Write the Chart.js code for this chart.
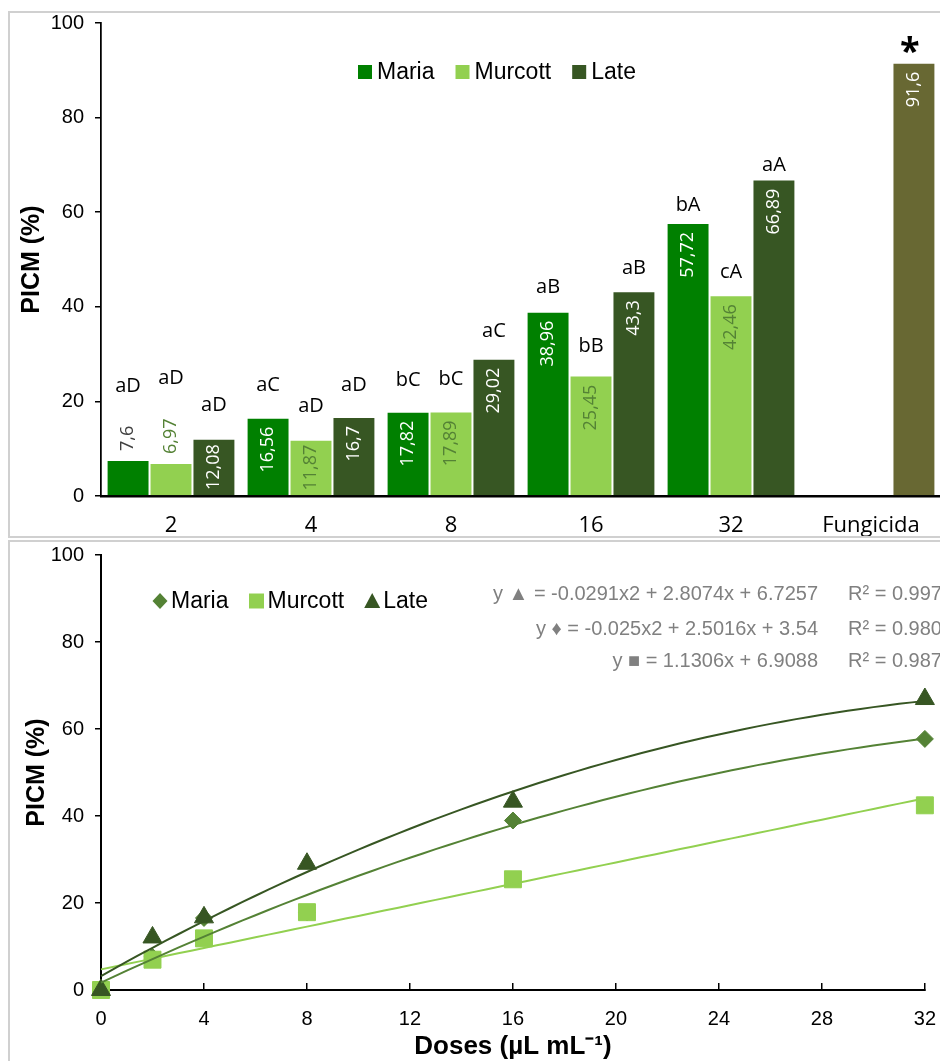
<!DOCTYPE html>
<html>
<head>
<meta charset="utf-8">
<script src="https://cdn.jsdelivr.net/npm/chart.js@4.4.1/dist/chart.umd.min.js"></script>
<style>
body { margin: 0; background: #fff; overflow: hidden; width: 940px; height: 1061px; position: relative; }
.frame { position: absolute; left: 8px; width: 1000px; border: 2px solid #d0d0d0; box-sizing: border-box; }
#frame-top { top: 11px; height: 527px; }
#frame-bottom { top: 540px; height: 600px; }
canvas { position: absolute; left: 0; }
#bar-chart { top: 0; }
#dose-chart { top: 541px; }
</style>
</head>
<body>
<div class="frame" id="frame-top"></div>
<div class="frame" id="frame-bottom"></div>
<canvas id="bar-chart" width="960" height="536"></canvas>
<canvas id="dose-chart" width="960" height="520"></canvas>
<script>
// top chart: PICM per dose and cultivar
const doses = ["2", "4", "8", "16", "32", "Fungicida"];
const maria = [7.6, 16.56, 17.82, 38.96, 57.72, null];
const murcott = [6.97, 11.87, 17.89, 25.45, 42.46, null];
const late = [12.08, 16.7, 29.02, 43.3, 66.89, 91.6];

const mariaLetters = ["aD", "aC", "bC", "aB", "bA", ""];
const murcottLetters = ["aD", "aD", "bC", "bB", "cA", ""];
const lateLetters = ["aD", "aD", "aC", "aB", "aA", "*"];

// bottom chart: dose response
const doseX = [0, 2, 4, 8, 16, 32];
const mariaPicm = [0, 7.6, 16.56, 17.82, 38.96, 57.72];
const murcottPicm = [0, 6.97, 11.87, 17.89, 25.45, 42.46];
const latePicm = [0, 12.08, 16.7, 29.02, 43.3, 66.89];

const equations = [
    "y \u25B2 = -0.0291x2 + 2.8074x + 6.7257",
    "y \u2666 = -0.025x2 + 2.5016x + 3.54",
    "y \u25A0 = 1.1306x + 6.9088"
];
const rSquared = ["R\u00B2 = 0.9978", "R\u00B2 = 0.9802", "R\u00B2 = 0.9878"];

const MARIA = "#008000";
const MURCOTT = "#92d050";
const LATE = "#375623";
const FUNGI = "#686833";
const MARIA_PT = "#548235";
const ARIAL = "'Liberation Sans', Arial, sans-serif";
const OPEN = "'Open Sans', sans-serif";

const fmt = v => String(v).replace(".", ",");

const barLabels = {
    id: "barLabels",
    afterDatasetsDraw(chart) {
        const ctx = chart.ctx;
        chart.data.datasets.forEach((ds, di) => {
            const meta = chart.getDatasetMeta(di);
            meta.data.forEach((bar, i) => {
                const v = ds.data[i];
                if (v == null) return;
                const text = fmt(v);
                ctx.save();
                ctx.font = "18px " + OPEN;
                const len = ctx.measureText(text).width;
                const h = bar.base - bar.y;
                const inside = h >= 45;
                let labelTop;
                if (inside) {
                    ctx.translate(bar.x, bar.y + Math.min(9, (h - len) / 2));
                    ctx.rotate(-Math.PI / 2);
                    ctx.textAlign = "right";
                    ctx.fillStyle = ds.insideLabel;
                    labelTop = bar.y;
                } else {
                    ctx.translate(bar.x, bar.y - 9);
                    ctx.rotate(-Math.PI / 2);
                    ctx.textAlign = "left";
                    ctx.fillStyle = ds.outsideLabel;
                    labelTop = bar.y - 9 - len;
                }
                ctx.textBaseline = "middle";
                ctx.fillText(text, 0, 0);
                ctx.restore();

                const letter = ds.letters[i];
                if (!letter) return;
                ctx.save();
                ctx.fillStyle = "#000";
                ctx.textAlign = "center";
                ctx.textBaseline = "middle";
                if (letter === "*") {
                    ctx.font = "bold 36px " + OPEN;
                    ctx.fillText(letter, bar.x - 4, bar.y - 10);
                } else {
                    ctx.font = "20px " + OPEN;
                    const y = inside ? bar.y - (38 - 0.35 * v) : labelTop - 40;
                    ctx.fillText(letter, bar.x, y);
                }
                ctx.restore();
            });
        });
    }
};

const topLegend = {
    id: "topLegend",
    afterDraw(chart) {
        const ctx = chart.ctx;
        let x = 358;
        const y = 72;
        ctx.save();
        ctx.font = "23px " + ARIAL;
        ctx.textBaseline = "middle";
        chart.data.datasets.forEach(ds => {
            ctx.fillStyle = ds.legendColor;
            ctx.fillRect(x, y - 7, 14, 14);
            x += 19;
            ctx.fillStyle = "#000";
            ctx.fillText(ds.label, x, y + 1);
            x += ctx.measureText(ds.label).width + 21;
        });
        ctx.restore();
    }
};

new Chart(document.getElementById("bar-chart"), {
    type: "bar",
    data: {
        labels: doses,
        datasets: [
            {
                label: "Maria", data: maria, backgroundColor: MARIA, legendColor: MARIA,
                insideLabel: "#ffffff", outsideLabel: "#404040", letters: mariaLetters
            },
            {
                label: "Murcott", data: murcott, backgroundColor: MURCOTT, legendColor: MURCOTT,
                insideLabel: MARIA_PT, outsideLabel: MARIA_PT, letters: murcottLetters
            },
            {
                label: "Late", data: late, legendColor: LATE,
                backgroundColor: c => (c.dataIndex === 5 ? FUNGI : LATE),
                insideLabel: "#ffffff", outsideLabel: "#404040", letters: lateLetters
            }
        ]
    },
    options: {
        responsive: false,
        animation: false,
        devicePixelRatio: 1,
        events: [],
        layout: { padding: { left: 0, right: 19, top: 23, bottom: 0 } },
        datasets: {
            bar: {
                categoryPercentage: 0.92,
                barPercentage: 1,
                borderWidth: 1,
                borderColor: "rgba(255,255,255,0.45)"
            }
        },
        plugins: { legend: { display: false }, tooltip: { enabled: false } },
        scales: {
            x: {
                afterFit: s => { s.height = 40; },
                grid: { display: false },
                border: { display: true, color: "#000", width: 2.5 },
                ticks: { font: { family: OPEN, size: 22 }, color: "#000", padding: 9 }
            },
            y: {
                min: 0,
                max: 100,
                afterFit: s => { s.width = 101; s.paddingTop = 0; s.paddingBottom = 0; },
                grid: { display: true, drawOnChartArea: false, drawTicks: true, tickLength: 6, color: "#000", lineWidth: 1.5 },
                border: { display: true, color: "#000", width: 1.75 },
                ticks: { stepSize: 20, font: { family: ARIAL, size: 20 }, color: "#000", padding: 11 },
                title: {
                    display: true, text: "PICM (%)", color: "#000",
                    font: { family: ARIAL, size: 25, weight: "bold" }, padding: { top: 17, bottom: 0 }
                }
            }
        }
    },
    plugins: [barLabels, topLegend]
});

// least squares polynomial, same as a spreadsheet trendline
function polyfit(xs, ys, degree) {
    const n = degree + 1;
    const a = [];
    for (let r = 0; r < n; r++) {
        a.push([]);
        for (let c = 0; c < n; c++) {
            a[r].push(xs.reduce((s, x) => s + Math.pow(x, r + c), 0));
        }
        a[r].push(xs.reduce((s, x, i) => s + Math.pow(x, r) * ys[i], 0));
    }
    for (let p = 0; p < n; p++) {
        for (let r = p + 1; r < n; r++) {
            const f = a[r][p] / a[p][p];
            for (let c = p; c <= n; c++) a[r][c] -= f * a[p][c];
        }
    }
    const coef = new Array(n).fill(0);
    for (let r = n - 1; r >= 0; r--) {
        let s = a[r][n];
        for (let c = r + 1; c < n; c++) s -= a[r][c] * coef[c];
        coef[r] = s / a[r][r];
    }
    return coef;
}

function trendline(ys, degree) {
    const coef = polyfit(doseX, ys, degree);
    const pts = [];
    for (let x = 0; x <= 32; x += 0.5) {
        pts.push({ x, y: coef.reduce((s, c, k) => s + c * Math.pow(x, k), 0) });
    }
    return pts;
}

const points = ys => doseX.map((x, i) => ({ x, y: ys[i] }));

function drawMarker(ctx, style, x, y, color) {
    ctx.fillStyle = color;
    ctx.beginPath();
    if (style === "rectRot") {
        ctx.moveTo(x, y - 8);
        ctx.lineTo(x + 7.5, y);
        ctx.lineTo(x, y + 8);
        ctx.lineTo(x - 7.5, y);
    } else if (style === "rect") {
        ctx.rect(x - 7.5, y - 7.5, 15, 15);
    } else {
        ctx.moveTo(x, y - 8);
        ctx.lineTo(x + 8, y + 7);
        ctx.lineTo(x - 8, y + 7);
    }
    ctx.closePath();
    ctx.fill();
}

const doseLegend = {
    id: "doseLegend",
    afterDraw(chart) {
        const ctx = chart.ctx;
        let x = 152;
        const y = 60;
        ctx.save();
        ctx.font = "23px " + ARIAL;
        ctx.textBaseline = "middle";
        chart.data.datasets.filter(ds => !ds.fit).forEach(ds => {
            drawMarker(ctx, ds.pointStyle, x + 8, y, ds.backgroundColor);
            x += 19;
            ctx.fillStyle = "#000";
            ctx.fillText(ds.label, x, y + 1);
            x += ctx.measureText(ds.label).width + 20;
        });

        ctx.font = "20px " + ARIAL;
        ctx.fillStyle = "#808080";
        const rows = [53, 88, 120];
        equations.forEach((t, i) => {
            ctx.textAlign = "right";
            ctx.fillText(t, 818, rows[i]);
            ctx.textAlign = "left";
            ctx.fillText(rSquared[i], 848, rows[i]);
        });
        ctx.restore();
    }
};

new Chart(document.getElementById("dose-chart"), {
    type: "scatter",
    data: {
        datasets: [
            {
                label: "Maria", data: points(mariaPicm), pointStyle: "rectRot", pointRadius: 8.5,
                backgroundColor: MARIA_PT, borderColor: MARIA_PT, borderWidth: 1, order: 3
            },
            {
                label: "Murcott", data: points(murcottPicm), pointStyle: "rect", pointRadius: 12,
                backgroundColor: MURCOTT, borderColor: MURCOTT, borderWidth: 1, order: 2
            },
            {
                label: "Late", data: points(latePicm), pointStyle: "triangle", pointRadius: 11,
                backgroundColor: LATE, borderColor: LATE, borderWidth: 1, order: 1
            },
            {
                type: "line", fit: true, label: "Late fit", data: trendline(latePicm, 2),
                borderColor: LATE, borderWidth: 2, pointRadius: 0, order: 0
            },
            {
                type: "line", fit: true, label: "Maria fit", data: trendline(mariaPicm, 2),
                borderColor: MARIA_PT, borderWidth: 2, pointRadius: 0, order: 0
            },
            {
                type: "line", fit: true, label: "Murcott fit", data: trendline(murcottPicm, 1),
                borderColor: MURCOTT, borderWidth: 2, pointRadius: 0, order: 0
            }
        ]
    },
    options: {
        responsive: false,
        animation: false,
        devicePixelRatio: 1,
        events: [],
        clip: false,
        layout: { padding: { left: 0, right: 35, top: 14, bottom: 0 } },
        plugins: { legend: { display: false }, tooltip: { enabled: false } },
        scales: {
            x: {
                type: "linear",
                min: 0,
                max: 32,
                afterFit: s => { s.height = 71; },
                grid: { display: true, drawOnChartArea: false, drawTicks: true, tickLength: -7, color: "#000", lineWidth: 1.5 },
                border: { display: true, color: "#000", width: 2 },
                ticks: { stepSize: 4, font: { family: ARIAL, size: 20 }, color: "#000", padding: 24 },
                title: {
                    display: true, text: "Doses (\u00B5L mL\u207B\u00B9)", color: "#000",
                    font: { family: ARIAL, size: 26, weight: "bold", lineHeight: 1 }, padding: { top: 0, bottom: 1 }
                }
            },
            y: {
                min: 0,
                max: 100,
                afterFit: s => { s.width = 101; s.paddingTop = 0; s.paddingBottom = 0; },
                grid: { display: true, drawOnChartArea: false, drawTicks: true, tickLength: 6, color: "#000", lineWidth: 1.5 },
                border: { display: true, color: "#000", width: 2 },
                ticks: { stepSize: 20, font: { family: ARIAL, size: 20 }, color: "#000", padding: 11 },
                title: {
                    display: true, text: "PICM (%)", color: "#000",
                    font: { family: ARIAL, size: 25, weight: "bold" }, padding: { top: 22, bottom: 0 }
                }
            }
        }
    },
    plugins: [doseLegend]
});
</script>
</body>
</html>
